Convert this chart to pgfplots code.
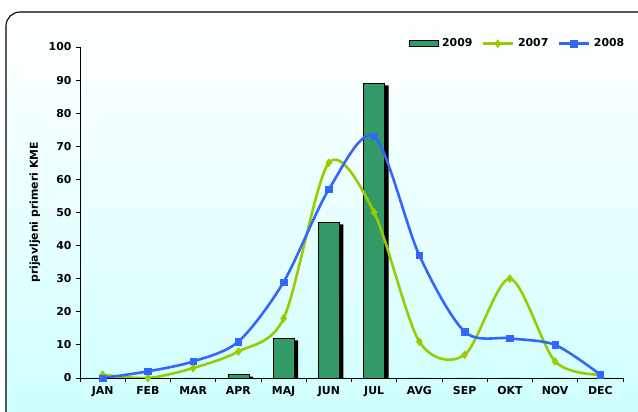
\documentclass[border=0pt]{standalone}
\usepackage{fontspec}
\setmainfont{DejaVu Sans}
\usepackage{pgfplots}
\pgfplotsset{compat=1.18}
\definecolor{barg}{HTML}{339966}
\definecolor{lg}{HTML}{99CC00}
\definecolor{lb}{HTML}{3366FF}
\definecolor{bgc}{HTML}{CCFFFF}
\newcommand{\chartfont}{\bfseries\fontsize{10.9}{12}\selectfont}
\pgfplotsset{
  barleg/.style={legend image code/.code={\draw[##1] (0pt,-3pt) rectangle (29pt,3pt);}},
  lineleg/.style={legend image code/.code={\draw[mark repeat=2,mark phase=2,##1] plot coordinates {(0pt,0pt)(15pt,0pt)(30pt,0pt)};}},
}
\begin{document}
\begin{tikzpicture}
\useasboundingbox (0pt,0pt) rectangle (638pt,412pt);
\fill[white] (0pt,0pt) rectangle (638pt,412pt);
\shade[top color=white, bottom color=bgc, middle color=bgc!45!white, draw=black, line width=1.1pt, rounded corners=14pt] (6pt,-20pt) rectangle (660pt,400pt);
\begin{axis}[
  at={(80pt,34pt)}, anchor=south west,
  width=543pt, height=331pt, scale only axis,
  xmin=-0.5, xmax=11.5, ymin=0, ymax=100,
  axis lines*=left,
  axis line style={line width=0.8pt},
  xtick={0,...,11},
  xticklabels={JAN,FEB,MAR,APR,MAJ,JUN,JUL,AVG,SEP,OKT,NOV,DEC},
  minor xtick={-0.5,0.5,...,11.5},
  major x tick style={draw=none},
  minor tick length=4pt,
  ytick={0,10,...,100},
  major tick length=4pt,
  tick align=outside,
  tick style={black, line width=0.8pt},
  ticklabel style={font=\chartfont},
  /pgf/number format/assume math mode=true,
  xticklabel style={yshift=-1pt},
  yticklabel style={xshift=-1pt},
  ylabel={prijavljeni primeri KME},
  ylabel style={font=\chartfont, at={(axis description cs:-0.083,0.5)}, anchor=center},
  legend columns=3,
  legend style={draw=none, fill=none, at={(1.012,1.01)}, anchor=east, font=\chartfont,
     /tikz/every even column/.append style={column sep=7pt},
     /tikz/every odd column/.append style={column sep=2pt}},
]
% shadow of bars
\addplot[ybar, bar width=21pt, bar shift=4pt, fill=black, draw=none, yshift=-2pt, forget plot]
  coordinates {(0,0) (1,0) (2,0) (3,1) (4,12) (5,47) (6,89) (7,0) (8,0) (9,0) (10,0) (11,0)};
\addplot[ybar, bar width=21pt, bar shift=0pt, fill=barg, draw=black, line width=0.6pt, barleg]
  coordinates {(0,0) (1,0) (2,0) (3,1) (4,12) (5,47) (6,89) (7,0) (8,0) (9,0) (10,0) (11,0)};
\addlegendentry{2009}
\addplot[smooth, color=lg, line width=2.6pt, mark=diamond*, mark size=4pt, mark options={line width=0.5pt}, lineleg]
  coordinates {(0,1) (1,0) (2,3) (3,8) (4,18) (5,65) (6,50) (7,11) (8,7) (9,30) (10,5) (11,1)};
\addlegendentry{2007}
\addplot[smooth, color=lb, line width=2.6pt, mark=square*, mark size=3.2pt, mark options={line width=0.5pt}, lineleg]
  coordinates {(0,0) (1,2) (2,5) (3,11) (4,29) (5,57) (6,73) (7,37) (8,14) (9,12) (10,10) (11,1)};
\addlegendentry{2008}
\end{axis}
\end{tikzpicture}
\end{document}
